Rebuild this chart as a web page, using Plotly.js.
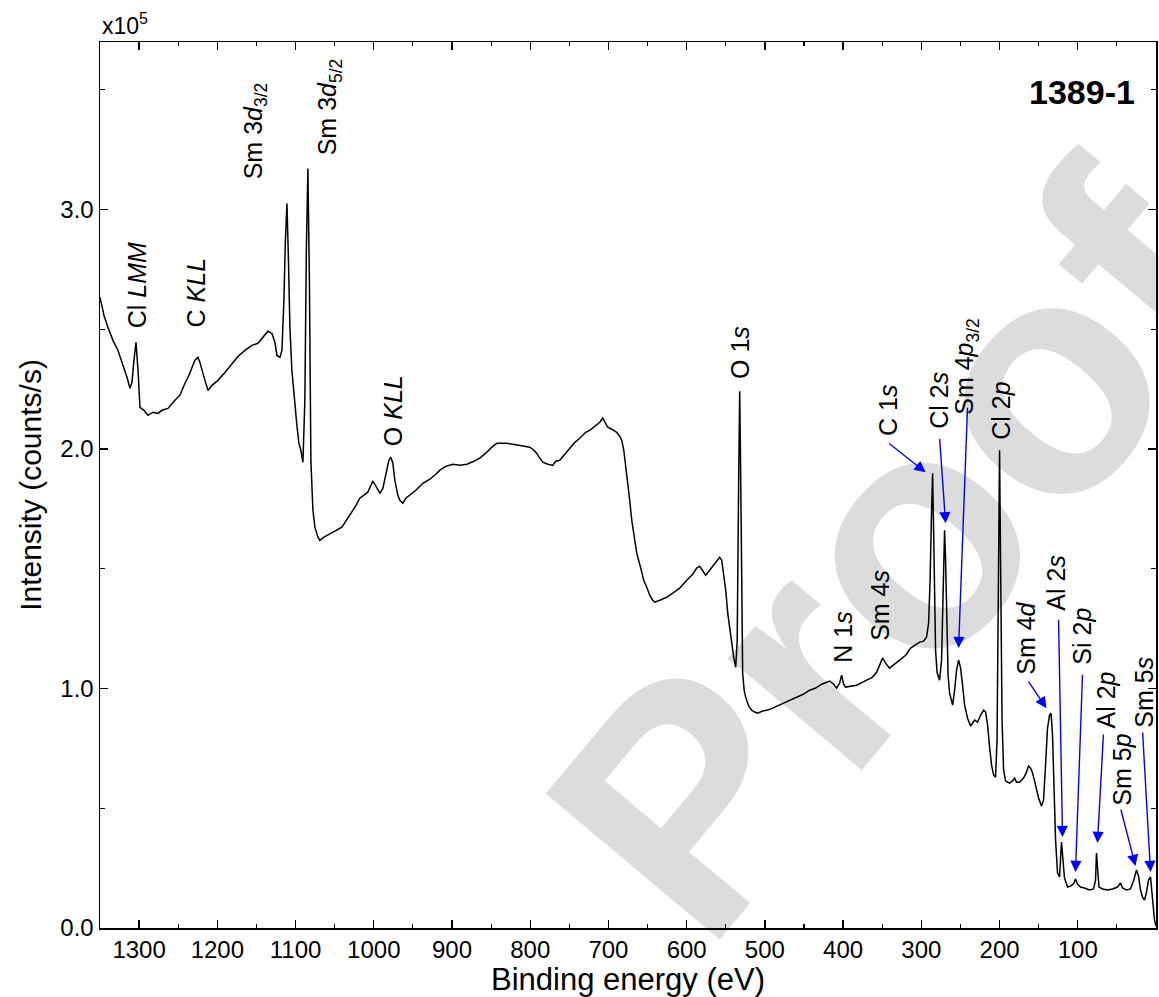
<!DOCTYPE html>
<html>
<head>
<meta charset="utf-8">
<script src="https://cdn.plot.ly/plotly-3.0.1.min.js"></script>
<style>
  html, body { margin: 0; padding: 0; background: #ffffff; }
  #chart { width: 1159px; height: 997px; }
</style>
</head>
<body>
<div id="chart"></div>
<script>
// Binding energy (eV)
const bindingEnergy = [
  1350, 1344.9, 1339.8, 1333.4, 1327, 1320.6, 1315.5, 1311.7, 1309.1, 1306.6,
  1304, 1301.4, 1298.9, 1293.8, 1288.7, 1282.3, 1275.9, 1270.8, 1263.1, 1254.2,
  1247.8, 1241.4, 1236.3, 1232.4, 1228.6, 1224.8, 1222.2, 1218.4, 1214.5, 1212,
  1206.9, 1199.2, 1190.3, 1181.3, 1173.7, 1164.7, 1155.8, 1148.1, 1141.7, 1135.3,
  1130.2, 1126.4, 1123.8, 1120, 1117.4, 1114.9, 1113, 1111, 1109.1, 1107.2,
  1104.7, 1100.8, 1098.3, 1095.7, 1093.2, 1090.6, 1088.1, 1086.2, 1084.2, 1082.3,
  1080.4, 1077.8, 1075.3, 1071.4, 1068.9, 1063.8, 1058.7, 1049.7, 1040.8, 1033.1,
  1024.2, 1017.8, 1011.4, 1007.6, 1003.7, 1001.2, 998.6, 996.1, 992.2, 988.4,
  984.6, 980.7, 978.2, 975.6, 973.1, 969.2, 966.7, 962.8, 959, 953.9,
  946.2, 937.3, 928.3, 920.7, 915.5, 907.9, 898.9, 889.9, 881, 872,
  864.4, 855.5, 849.1, 842.7, 836.3, 829.9, 822.3, 813.3, 806.9, 800.5,
  795.4, 791.6, 787.8, 783.9, 777.5, 771.2, 767.3, 762.2, 755.8, 749.4,
  743, 736.7, 729, 723.9, 717.5, 711.1, 707.3, 703.4, 700.9, 695.8,
  689.4, 685.5, 683, 680.4, 676.6, 672.8, 670.2, 666.4, 663.8, 658.7,
  654.9, 651, 647.2, 643.4, 640.8, 634.4, 625.5, 617.8, 608.9, 599.9,
  592.3, 587.2, 583.3, 580.8, 575.7, 570.6, 564.2, 557.8, 555.2, 552.7,
  550.1, 547.5, 545, 542.4, 539.9, 537.3, 535.4, 533.5, 532.2, 531,
  529.7, 528.4, 526.5, 524.6, 520.8, 516.9, 513.1, 509.3, 502.9, 496.5,
  490.1, 483.7, 477.3, 468.3, 459.4, 450.4, 442.8, 435.1, 427.4, 421.1,
  417.2, 412.1, 408.3, 404.4, 401.9, 399.3, 396.8, 390.4, 382.7, 375,
  368.7, 362.3, 357.2, 353.3, 349.5, 345.7, 340.6, 334.2, 327.8, 320.1,
  313.7, 308.6, 302.2, 297.1, 293.3, 290.7, 288.8, 286.9, 285.6, 284.3,
  283.1, 281.8, 279.9, 276.7, 274.1, 272.2, 270.3, 269, 267.7, 265.8,
  263.9, 260, 257.5, 254.9, 252.4, 249.8, 247.3, 244.7, 240.9, 237,
  231.9, 228.1, 224.2, 220.4, 217.8, 215.3, 212.7, 210.2, 207.6, 205.1,
  203.2, 201.2, 200, 198.7, 196.8, 194.8, 192.3, 187.2, 183.4, 180.8,
  178.3, 174.4, 169.3, 165.5, 162.9, 160.4, 157.8, 154, 150.1, 146.3,
  143.8, 141.2, 138.7, 136.1, 134.2, 132.3, 130.4, 128.4, 125.9, 123.3,
  122.1, 120.8, 118.9, 117, 113.1, 109.3, 105.5, 102.9, 100.4, 96.5,
  91.4, 85, 79.9, 77.3, 76.1, 74.8, 72.9, 68.4, 62, 55.6,
  49.2, 45.4, 42.8, 37.7, 32.6, 28.8, 24.9, 22.4, 19.8, 17.2,
  14.7, 12.1, 9.6, 7, 4.5, 1.9, 0
];

// Intensity in units of 10^5 counts/s
const intensity = [
  2.634, 2.558, 2.508, 2.454, 2.412, 2.350, 2.300, 2.254, 2.279, 2.371,
  2.446, 2.329, 2.174, 2.162, 2.141, 2.154, 2.149, 2.162, 2.170, 2.204,
  2.225, 2.275, 2.308, 2.341, 2.371, 2.383, 2.362, 2.316, 2.266, 2.245,
  2.266, 2.287, 2.320, 2.358, 2.387, 2.412, 2.433, 2.442, 2.467, 2.492,
  2.483, 2.446, 2.391, 2.383, 2.412, 2.621, 2.871, 3.026, 2.788, 2.508,
  2.329, 2.174, 2.099, 2.024, 1.995, 1.945, 2.204, 2.830, 3.172, 2.705,
  1.953, 1.745, 1.674, 1.632, 1.619, 1.632, 1.640, 1.657, 1.674, 1.711,
  1.757, 1.795, 1.811, 1.820, 1.849, 1.866, 1.853, 1.836, 1.816, 1.836,
  1.891, 1.953, 1.966, 1.941, 1.870, 1.807, 1.786, 1.774, 1.795, 1.807,
  1.828, 1.857, 1.874, 1.895, 1.912, 1.928, 1.937, 1.932, 1.937, 1.949,
  1.962, 1.987, 2.008, 2.024, 2.024, 2.024, 2.020, 2.016, 2.012, 2.008,
  1.995, 1.982, 1.962, 1.945, 1.937, 1.932, 1.949, 1.953, 1.978, 2.003,
  2.028, 2.045, 2.070, 2.078, 2.095, 2.112, 2.129, 2.108, 2.091, 2.083,
  2.070, 2.053, 2.037, 1.995, 1.899, 1.786, 1.703, 1.619, 1.565, 1.503,
  1.452, 1.423, 1.390, 1.369, 1.361, 1.369, 1.381, 1.398, 1.419, 1.452,
  1.477, 1.503, 1.511, 1.498, 1.473, 1.494, 1.523, 1.548, 1.536, 1.473,
  1.411, 1.315, 1.252, 1.189, 1.131, 1.089, 1.202, 1.870, 2.241, 1.912,
  1.285, 1.064, 0.993, 0.964, 0.927, 0.910, 0.902, 0.897, 0.906, 0.910,
  0.918, 0.927, 0.939, 0.952, 0.964, 0.977, 0.993, 1.002, 1.018, 1.027,
  1.031, 1.018, 1.002, 1.023, 1.056, 1.018, 1.006, 1.010, 1.014, 1.027,
  1.039, 1.048, 1.068, 1.102, 1.127, 1.106, 1.085, 1.102, 1.119, 1.139,
  1.169, 1.181, 1.194, 1.198, 1.215, 1.273, 1.452, 1.745, 1.899, 1.661,
  1.340, 1.160, 1.068, 1.035, 1.119, 1.369, 1.661, 1.536, 1.285, 1.056,
  0.981, 0.931, 0.993, 1.077, 1.119, 1.085, 1.014, 0.931, 0.876, 0.843,
  0.868, 0.860, 0.889, 0.910, 0.902, 0.847, 0.755, 0.680, 0.639, 0.630,
  0.785, 1.536, 1.995, 1.536, 0.868, 0.659, 0.614, 0.605, 0.614, 0.626,
  0.609, 0.609, 0.626, 0.651, 0.676, 0.668, 0.647, 0.597, 0.543, 0.509,
  0.534, 0.680, 0.835, 0.889, 0.897, 0.806, 0.618, 0.367, 0.230, 0.213,
  0.284, 0.359, 0.284, 0.209, 0.171, 0.175, 0.184, 0.205, 0.184, 0.171,
  0.167, 0.159, 0.163, 0.200, 0.313, 0.242, 0.171, 0.163, 0.159, 0.163,
  0.171, 0.188, 0.167, 0.159, 0.163, 0.196, 0.242, 0.217, 0.159, 0.129,
  0.117, 0.150, 0.200, 0.213, 0.138, 0.033, 0.008
];

// Peak labels
const peakLabels = [
  'Cl <i>LMM</i>', 'C <i>KLL</i>', 'Sm 3<i>d</i><sub>3/2</sub>', 'Sm 3<i>d</i><sub>5/2</sub>',
  'O <i>KLL</i>', 'O 1<i>s</i>', 'N 1<i>s</i>', 'Sm 4<i>s</i>', 'C 1<i>s</i>', 'Cl 2<i>s</i>',
  'Sm 4<i>p</i><sub>3/2</sub>', 'Cl 2<i>p</i>', 'Sm 4<i>d</i>', 'Al 2<i>s</i>', 'Si 2<i>p</i>',
  'Al 2<i>p</i>', 'Sm 5<i>p</i>', 'Sm 5<i>s</i>'
];
const peakLabelBE = [1302.7, 1226.1, 1151.9, 1056.1, 975.6, 531, 400.6, 352, 341.8, 276.7,
                     242.2, 197.4, 165.5, 127.2, 93.9, 63.3, 42.8, 14.7];
const peakLabelI = [2.684, 2.654, 3.331, 3.431, 2.162, 2.404, 1.215, 1.348, 2.162, 2.204,
                    2.346, 2.158, 1.210, 1.440, 1.219, 0.952, 0.659, 0.985];

// Arrows (tail -> tip) pointing at small / crowded peaks
const arrowTailBE = [343.1, 276.7, 240.9, 164.2, 124.6, 93.9, 67.1, 45.4, 17.2];
const arrowTailI  = [2.028, 2.049, 2.179, 1.035, 1.294, 1.064, 0.814, 0.501, 0.822];
const arrowTipBE  = [294.5, 269.0, 252.4, 140.0, 119.5, 102.9, 74.8, 26.2, 7.0];
const arrowTipI   = [1.903, 1.690, 1.169, 0.918, 0.380, 0.234, 0.355, 0.259, 0.234];

const FONT = 'Liberation Sans, Arial, Helvetica, sans-serif';

const trace = {
  type: 'scatter',
  mode: 'lines',
  x: bindingEnergy,
  y: intensity,
  line: { color: '#000000', width: 1.5 },
  hoverinfo: 'skip',
  showlegend: false
};

const annotations = [];
peakLabels.forEach((t, i) => {
  annotations.push({
    xref: 'x', yref: 'y', x: peakLabelBE[i], y: peakLabelI[i],
    text: t, textangle: -90, showarrow: false,
    xanchor: 'center', yanchor: 'middle',
    font: { family: FONT, size: 25, color: '#000000' }
  });
});
arrowTipBE.forEach((bx, i) => {
  annotations.push({
    xref: 'x', yref: 'y', x: bx, y: arrowTipI[i],
    axref: 'x', ayref: 'y', ax: arrowTailBE[i], ay: arrowTailI[i],
    text: '', showarrow: true, arrowcolor: '#0000ff',
    arrowhead: 2, arrowsize: 1.6, arrowwidth: 1.4, standoff: 0, startstandoff: 0,
    font: { size: 1 }
  });
});
annotations.push({
  xref: 'paper', yref: 'paper', x: 0, y: 1, xanchor: 'left', yanchor: 'bottom',
  yshift: 1, xshift: 0,
  text: 'x10<sup>5</sup>', showarrow: false,
  font: { family: FONT, size: 23, color: '#000000' }
});
annotations.push({
  xref: 'paper', yref: 'paper', x: 0.982, y: 0.9436, xanchor: 'right', yanchor: 'middle',
  text: '<b>1389-1</b>', showarrow: false,
  font: { family: FONT, size: 34, color: '#000000' }
});

const layout = {
  width: 1159,
  height: 997,
  margin: { l: 100, r: 3, t: 42, b: 69 },
  paper_bgcolor: '#ffffff',
  plot_bgcolor: 'rgba(0,0,0,0)',
  font: { family: FONT, size: 24, color: '#000000' },
  showlegend: false,
  xaxis: {
    range: [1350, 0],
    autorange: false,
    tickmode: 'linear', tick0: 0, dtick: 100,
    ticks: 'inside', ticklen: 8, tickwidth: 1.3, tickcolor: '#000000',
    minor: { ticks: 'inside', ticklen: 4, tickwidth: 1.2, tickcolor: '#000000', dtick: 50, tick0: 0 },
    showline: true, linecolor: '#000000', linewidth: 1.5, mirror: 'ticks',
    showgrid: false, zeroline: false,
    tickfont: { family: FONT, size: 24 },
    title: { text: 'Binding energy (eV)', font: { family: FONT, size: 31 }, standoff: 4 },
    automargin: false
  },
  yaxis: {
    range: [0, 3.7],
    autorange: false,
    tickmode: 'linear', tick0: 0, dtick: 1,
    tickformat: '.1f',
    ticks: 'inside', ticklen: 8, tickwidth: 1.3, tickcolor: '#000000',
    minor: { ticks: 'inside', ticklen: 5, tickwidth: 1.2, tickcolor: '#000000', dtick: 0.5, tick0: 0 },
    showline: true, linecolor: '#000000', linewidth: 1.5, mirror: 'ticks',
    showgrid: false, zeroline: false,
    tickfont: { family: FONT, size: 24 },
    title: { text: 'Intensity (counts/s)', font: { family: FONT, size: 30 }, standoff: 10 },
    automargin: false
  },
  shapes: [{
    type: 'line', xref: 'paper', yref: 'paper',
    x0: 0.72, x1: 0.74, y0: 0.446, y1: 0.446,
    line: { color: 'rgba(0,0,0,0)', width: 0 },
    layer: 'below',
    label: {
      text: '<b>Proof</b>',
      font: { family: FONT, size: 330, color: '#dcdcdc' },
      textangle: -50, textposition: 'middle', xanchor: 'center', yanchor: 'middle'
    }
  }],
  annotations: annotations
};

Plotly.newPlot('chart', [trace], layout, { staticPlot: true, displayModeBar: false });
</script>
</body>
</html>
